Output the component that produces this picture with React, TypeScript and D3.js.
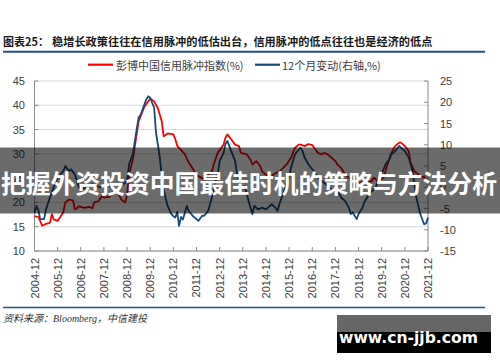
import React from "react";
import * as d3 from "d3";

// ---- data ----
const redDates = ["2004-12","2005-02","2005-04","2005-06","2005-08","2005-09","2005-10","2005-12","2006-01","2006-03","2006-04","2006-06","2006-08","2006-09","2006-10","2006-11","2007-02","2007-04","2007-06","2007-07","2007-09","2007-11","2007-12","2008-03","2008-04","2008-05","2008-07","2008-09","2008-11","2008-12","2009-01","2009-03","2009-05","2009-06","2009-09","2009-12","2010-02","2010-04","2010-06","2010-07","2010-09","2010-12","2011-01","2011-02","2011-04","2011-06","2011-08","2011-10","2011-12","2012-02","2012-04","2012-06","2012-08","2012-09","2012-11","2013-02","2013-03","2013-04","2013-06","2013-08","2013-10","2013-11","2014-02","2014-04","2014-05","2014-07","2014-09","2014-10","2015-01","2015-03","2015-04","2015-07","2015-09","2015-11","2016-01","2016-03","2016-05","2016-06","2016-08","2016-10","2016-12","2017-01","2017-03","2017-05","2017-06","2017-08","2017-10","2017-12","2018-01","2018-03","2018-05","2018-07","2018-09","2018-12","2019-03","2019-07","2019-08","2019-10","2020-01","2020-03","2020-05","2020-07","2020-09","2020-10","2020-12","2021-02","2021-03","2021-05","2021-07","2021-09","2021-10","2021-12"];
const redValues = [17.2,17.0,15.2,15.6,15.8,17.6,16.5,16.2,16.8,18.0,20.0,20.6,20.4,18.6,18.8,19.2,18.9,19.1,18.8,20.0,20.2,21.3,21.0,21.2,21.6,22.7,22.3,20.6,20.0,21.5,25.8,28.8,34.0,36.7,39.7,41.4,40.8,39.4,36.7,33.6,34.2,34.0,33.0,31.6,30.8,29.9,28.2,27.0,25.6,25.2,24.8,25.6,26.4,28.0,30.2,31.9,33.3,34.0,33.0,31.9,31.6,30.2,29.9,28.8,27.8,28.5,27.5,26.4,25.4,25.3,25.8,26.4,27.1,28.0,29.2,31.2,31.9,31.9,31.6,32.0,31.8,31.2,30.2,29.9,30.2,29.9,29.2,28.5,27.8,27.1,25.8,25.1,24.4,24.1,24.1,24.4,25.1,24.4,25.1,27.8,30.2,31.6,32.3,32.3,31.6,30.5,28.2,26.4,25.8,25.1,25.4,24.0];

const blueDates = ["2004-12","2005-01","2005-02","2005-03","2005-05","2005-06","2005-08","2005-10","2005-12","2006-03","2006-04","2006-06","2006-07","2006-09","2006-10","2006-11","2007-02","2007-04","2007-06","2007-08","2007-10","2007-12","2008-02","2008-05","2008-07","2008-10","2008-12","2009-01","2009-03","2009-05","2009-06","2009-07","2009-09","2009-10","2009-11","2009-12","2010-02","2010-03","2010-04","2010-05","2010-06","2010-07","2010-08","2010-09","2010-11","2010-12","2011-01","2011-02","2011-03","2011-04","2011-05","2011-07","2011-08","2011-10","2012-01","2012-03","2012-04","2012-06","2012-08","2012-09","2012-11","2012-12","2013-02","2013-03","2013-04","2013-06","2013-08","2013-09","2013-10","2013-11","2014-01","2014-03","2014-05","2014-06","2014-08","2014-10","2014-12","2015-01","2015-03","2015-05","2015-06","2015-07","2015-10","2015-12","2016-01","2016-03","2016-05","2016-06","2016-07","2016-08","2016-10","2016-12","2017-02","2017-03","2017-05","2017-07","2017-08","2017-10","2017-12","2018-02","2018-03","2018-05","2018-07","2018-08","2018-09","2018-10","2018-11","2018-12","2019-02","2019-03","2019-05","2019-07","2019-09","2019-10","2019-12","2020-02","2020-04","2020-05","2020-07","2020-09","2020-10","2020-12","2021-02","2021-04","2021-05","2021-06","2021-08","2021-10","2021-11","2021-12"];
const blueValues = [-6.0,-4.4,-5.5,-7.5,-7.5,-5.2,-2.4,0.0,2.3,3.8,5.0,3.8,4.2,3.0,1.5,0.0,-0.3,0.0,0.7,0.3,0.0,0.3,0.7,-0.5,-0.9,0.7,1.5,5.4,7.7,13.6,16.4,17.0,19.5,20.7,21.4,21.0,18.7,13.0,10.0,7.0,2.5,-0.5,-2.5,-4.4,-6.3,-6.8,-7.1,-5.8,-9.1,-7.0,-7.6,-4.4,-5.6,-6.7,-7.9,-6.7,-6.7,-5.6,-2.4,0.0,3.1,6.2,8.1,10.1,10.9,8.5,6.2,3.1,1.5,-0.3,0.2,-3.2,-6.3,-4.4,-5.2,-4.8,-5.2,-4.8,-4.0,-4.8,-5.6,-4.0,0.0,2.6,4.6,7.7,8.9,9.3,8.5,7.0,5.4,4.2,3.1,2.3,1.5,0.7,0.3,-0.5,-0.9,-1.6,-2.4,-3.2,-4.8,-6.3,-5.9,-6.7,-7.5,-6.3,-4.8,-3.6,-2.0,-0.9,0.0,1.5,3.1,5.4,6.6,7.7,8.5,9.7,9.3,8.5,7.0,3.8,0.5,-2.5,-6.3,-8.7,-8.5,-7.1];

const leftTicks = [45, 40, 35, 30, 25, 20, 15, 10];
const rightTicks = [25, 20, 15, 10, 5, 0, -5, -10, -15];
const xTickLabels = ["2004-12","2005-12","2006-12","2007-12","2008-12","2009-12","2010-12","2011-12","2012-12","2013-12","2014-12","2015-12","2016-12","2017-12","2018-12","2019-12","2020-12","2021-12"];

const titleLabel = "图表25：";
const titleText = "稳增长政策往往在信用脉冲的低估出台，信用脉冲的低点往往也是经济的低点";
const redName = "彭博中国信用脉冲指数(%)";
const blueName = "12个月变动(右轴,%)";
const sourceText = "资料来源：Bloomberg，中信建投";
const bannerText = "把握外资投资中国最佳时机的策略与方法分析";
const watermarkText = "www.cn-jjb.com";

const RED = "#ff0000";
const BLUE = "#174b7d";
const AXIS = "#8c8c8c";
const GRID = "#d9d9d9";
const LABEL = "#404040";
const SANS = "'Liberation Sans', Arial, sans-serif";
const CJK = "'Noto Sans CJK SC', 'Noto Sans', sans-serif";

export default function App() {
  const parse = d3.timeParse("%Y-%m");
  const x = d3
    .scaleTime()
    .domain([parse("2004-12")!, parse("2021-12")!])
    .range([34.5, 428]);
  const yL = d3.scaleLinear().domain([10, 45]).range([251, 81]);
  const yR = d3.scaleLinear().domain([-15, 25]).range([251, 81]);

  type P = { d: Date; v: number };
  const redData: P[] = redDates.map((s, i) => ({ d: parse(s)!, v: redValues[i] })).filter((p) => p.v !== undefined);
  const blueData: P[] = blueDates.map((s, i) => ({ d: parse(s)!, v: blueValues[i] })).filter((p) => p.v !== undefined);

  const redLine = d3.line<P>().x((p) => x(p.d)).y((p) => yL(p.v))(redData) || "";
  const blueLine = d3.line<P>().x((p) => x(p.d)).y((p) => yR(p.v))(blueData) || "";

  const [x0, x1] = x.range();

  return (
    <svg
      width={500}
      height={362}
      viewBox="0 0 500 362"
      style={{ position: "absolute", left: 0, top: 0, display: "block", background: "#fff" }}
    >
      <rect x={0} y={0} width={500} height={362} fill="#fff" />

      {/* title */}
      <text x={3} y={46} fontFamily={CJK} fontWeight="bold" fontSize={11} fill="#1a1a1a">
        {titleLabel}
      </text>
      <text x={52} y={46} fontFamily={CJK} fontWeight="bold" fontSize={11.2} fill="#1a1a1a">
        {titleText}
      </text>
      <line x1={3} x2={485} y1={51.8} y2={51.8} stroke="#1f5289" strokeWidth={2} />

      {/* legend */}
      <line x1={88} x2={113} y1={64.7} y2={64.7} stroke={RED} strokeWidth={2.2} />
      <text x={116} y={64.7} dominantBaseline="central" fontFamily={CJK} fontSize={11} fill={LABEL}>
        {redName}
      </text>
      <line x1={255} x2={280} y1={64.7} y2={64.7} stroke={BLUE} strokeWidth={2.2} />
      <text x={282} y={64.7} dominantBaseline="central" fontFamily={CJK} fontSize={11} fill={LABEL}>
        {blueName}
      </text>

      {/* grid */}
      {leftTicks.map((t) => (
        <line key={"g" + t} x1={x0} x2={x1} y1={yL(t)} y2={yL(t)} stroke={GRID} strokeWidth={1} />
      ))}

      {/* axes */}
      <line x1={x0} x2={x0} y1={yL(45)} y2={yL(10)} stroke={AXIS} strokeWidth={1} />
      <line x1={x1} x2={x1} y1={yR(25)} y2={yR(-15)} stroke={AXIS} strokeWidth={1} />
      <line x1={x0} x2={x1} y1={yL(10)} y2={yL(10)} stroke={AXIS} strokeWidth={1} />
      {leftTicks.map((t) => (
        <g key={"l" + t}>
          <line x1={x0} x2={x0 + 4} y1={yL(t)} y2={yL(t)} stroke={AXIS} />
          <text x={25} y={yL(t)} textAnchor="end" dominantBaseline="central" fontFamily={SANS} fontSize={11} fill={LABEL}>
            {t}
          </text>
        </g>
      ))}
      {rightTicks.map((t) => (
        <g key={"r" + t}>
          <line x1={x1 - 4} x2={x1} y1={yR(t)} y2={yR(t)} stroke={AXIS} />
          <text x={440} y={yR(t)} textAnchor="start" dominantBaseline="central" fontFamily={SANS} fontSize={11} fill={LABEL}>
            {t}
          </text>
        </g>
      ))}
      {xTickLabels.map((s) => {
        const px = x(parse(s)!);
        return (
          <g key={"x" + s}>
            <line x1={px} x2={px} y1={yL(10)} y2={yL(10) - 4} stroke={AXIS} />
            <text
              transform={`translate(${px},258) rotate(-90)`}
              textAnchor="end"
              dominantBaseline="central"
              fontFamily={SANS}
              fontSize={11}
              fill={LABEL}
            >
              {s}
            </text>
          </g>
        );
      })}

      {/* series */}
      <path d={redLine} fill="none" stroke={RED} strokeWidth={1.8} strokeLinejoin="round" />
      <path d={blueLine} fill="none" stroke={BLUE} strokeWidth={1.8} strokeLinejoin="round" />

      {/* footer */}
      <line x1={3} x2={485} y1={307.5} y2={307.5} stroke="#1f5289" strokeWidth={1.5} />
      <text x={3} y={321.5} fontFamily={"'Liberation Serif', 'Noto Sans CJK SC', serif"} fontStyle="italic" fontSize={10} fill="#333">
        {sourceText}
      </text>

      {/* overlay banner */}
      <rect x={0} y={147.5} width={500} height={66} fill="rgba(0,0,0,0.58)" />
      <text
        x={249}
        y={182}
        textAnchor="middle"
        dominantBaseline="central"
        fontFamily={CJK}
        fontWeight="bold"
        fontSize={24.8}
        fill="#fff"
      >
        {bannerText}
      </text>

      {/* watermark */}
      <rect x={337} y={315} width={154} height={17} fill="#666" />
      <rect x={337} y={332} width={154} height={21} fill="#000" />
      <text x={339} y={343} fontFamily={"'DejaVu Sans', sans-serif"} fontWeight="bold" fontSize={15.6} fill="#fff">
        {watermarkText}
      </text>
    </svg>
  );
}
